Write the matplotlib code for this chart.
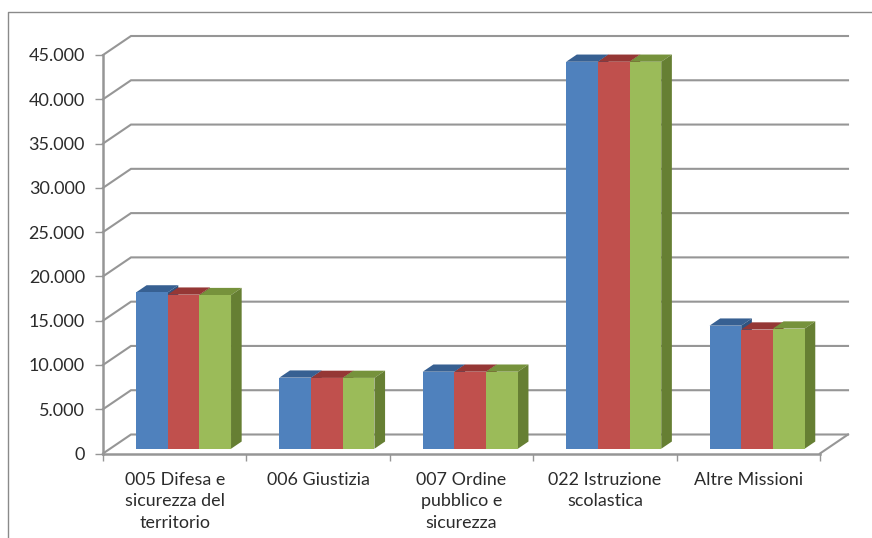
import numpy as np
import matplotlib
matplotlib.use("Agg")
import matplotlib.pyplot as plt
from matplotlib.lines import Line2D

categories = ["005 Difesa e\nsicurezza del\nterritorio", "006 Giustizia",
              "007 Ordine\npubblico e\nsicurezza", "022 Istruzione\nscolastica",
              "Altre Missioni"]
serie_a = [17650, 8030, 8700, 43700, 13900]
serie_b = [17400, 8000, 8700, 43700, 13460]
serie_c = [17350, 8000, 8700, 43700, 13570]
y_ticks = [0, 5000, 10000, 15000, 20000, 25000, 30000, 35000, 40000, 45000]
y_labels = ["0", "5.000", "10.000", "15.000", "20.000", "25.000", "30.000", "35.000", "40.000", "45.000"]

W, H = 872, 538
GRID = "#969696"
TEXT = "#2b2b2b"

fig = plt.figure(figsize=(W / 100, H / 100), dpi=100)
fig.patch.set_facecolor("white")
ax = fig.add_axes([103 / W, (H - 453.5) / H, 717 / W, 398.5 / H])
ax.set_xlim(0, 5)
ax.set_ylim(0, 45000)
ax.patch.set_visible(False)

# depth of the 3d box, in data units (28 px right, 19 px up)
px_x = 5 / 717
px_y = 45000 / 398.5
DX = 28 * px_x
DY = 19 * px_y


def pt(x, y, d=0.0):
    return x + d * DX, y + d * DY


def face(points, color, z):
    xs, ys = zip(*points)
    ax.fill(xs, ys, color=color, lw=0, zorder=z, clip_on=False)


# walls: diagonal on the left side, horizontal on the back
for v in y_ticks:
    x0, y0 = pt(0, v)
    x1, y1 = pt(0, v, 1)
    x2, y2 = pt(5, v, 1)
    ax.plot([x0, x1, x2], [y0, y1, y2], color=GRID, lw=1.5, zorder=1, clip_on=False,
            solid_joinstyle="miter")
# floor edge on the right
ax.plot(*zip(pt(5, 0), pt(5, 0, 1)), color=GRID, lw=1.5, zorder=1, clip_on=False)

series = [
    (serie_a, "#4f81bd", "#376092", "#2f5480"),
    (serie_b, "#c0504d", "#953735", "#7f2f2d"),
    (serie_c, "#9bbb59", "#76923c", "#667f33"),
]
bar_w = 0.221
start = 0.181
d0, d1 = 0.25, 0.63

z = 3
for i in range(len(categories)):
    for j, (vals, front, top, side) in enumerate(series):
        x0 = i + start + j * bar_w
        x1 = x0 + bar_w
        v = vals[i]
        face([pt(x0, v, d0), pt(x1, v, d0), pt(x1, v, d1), pt(x0, v, d1)], top, z)
        face([pt(x1, 0, d0), pt(x1, v, d0), pt(x1, v, d1), pt(x1, 0, d1)], side, z)
        face([pt(x0, 0, d0), pt(x1, 0, d0), pt(x1, v, d0), pt(x0, v, d0)], front, z + 1)
        z += 2

for s in ["top", "right"]:
    ax.spines[s].set_visible(False)
for s in ["left", "bottom"]:
    ax.spines[s].set_color(GRID)
    ax.spines[s].set_linewidth(1.8)

ax.set_yticks(y_ticks)
ax.set_yticklabels(y_labels, fontfamily="Lato", fontsize=13, color=TEXT)
ax.tick_params(axis="y", length=6, width=1, color=GRID, pad=7)

ax.set_xticks(np.arange(5) + 0.5)
ax.set_xticklabels(categories, fontfamily="Lato", fontsize=12.9, color=TEXT, linespacing=1.45, va="top")
ax.set_xticks(np.arange(6), minor=True)
ax.tick_params(axis="x", which="major", length=0, pad=13)
ax.tick_params(axis="x", which="minor", length=5, width=1, color=GRID)

# thin frame of the chart area, top and left
frame = [[8.0 / W, 8.0 / W, 1.0], [0.0, (H - 11.5) / H, (H - 11.5) / H]]
fig.add_artist(Line2D(frame[0], frame[1], color="#8a8a8a", lw=1.0))

fig.savefig("out.png", dpi=100, facecolor="white")
